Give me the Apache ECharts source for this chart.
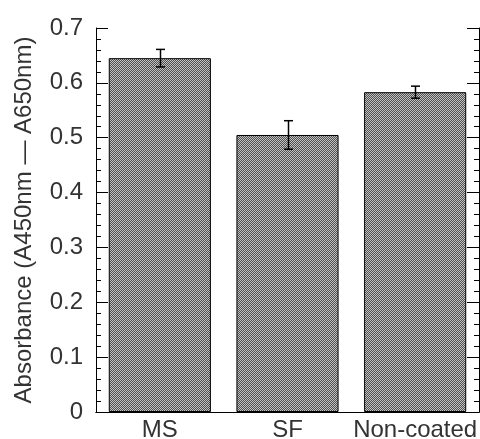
<!DOCTYPE html>
<html>
<head>
<meta charset="utf-8">
<script src="https://cdn.jsdelivr.net/npm/echarts@6/dist/echarts.min.js"></script>
<style>html,body{margin:0;padding:0;background:#fff}#c{width:480px;height:439px}</style>
</head>
<body>
<div id="c"></div>
<script>
const categories = ['MS', 'SF', 'Non-coated'];
const absorbance = [0.645, 0.505, 0.583];
const errors = [0.016, 0.026, 0.011];
const yTicks = [0, 0.1, 0.2, 0.3, 0.4, 0.5, 0.6, 0.7];

// checkered fill pattern
const pc = document.createElement('canvas');
pc.width = 2; pc.height = 2;
const pctx = pc.getContext('2d');
pctx.fillStyle = '#4e4e4e'; pctx.fillRect(0,0,2,2);
pctx.fillStyle = '#c4c4c4'; pctx.fillRect(0,0,1,1); pctx.fillRect(1,1,1,1);

const chart = echarts.init(document.getElementById('c'), null, {renderer: 'canvas'});
const font = 'Liberation Sans, Arial, sans-serif';
const fs = 24;
const yCommon = {
  type: 'value', min: yTicks[0], max: yTicks[yTicks.length-1], interval: 0.1,
  axisLine: {show: true, lineStyle: {color: '#000', width: 1}},
  axisTick: {show: true, inside: true, length: 12, lineStyle: {color: '#000', width: 1}},
  minorTick: {show: true, splitNumber: 5, length: 5, lineStyle: {color: '#000', width: 1}},
  splitLine: {show: false}
};
chart.setOption({
  animation: false,
  grid: {left: 96, top: 28, right: 1, bottom: 27, outerBoundsMode: 'none', containLabel: false},
  xAxis: [{
    type: 'category', data: categories, position: 'bottom',
    axisLine: {lineStyle: {color: '#000', width: 1}},
    axisTick: {inside: true, length: 13, lineStyle: {color: '#000'}},
    axisLabel: {color: '#333', fontSize: fs, fontFamily: font, margin: 6,
      interval: 0, hideOverlap: false}
  }, {
    type: 'category', data: categories, position: 'top',
    axisLine: {show: true, lineStyle: {color: '#000', width: 1}},
    axisTick: {inside: true, length: 13, lineStyle: {color: '#000'}},
    axisLabel: {show: false}
  }],
  yAxis: [Object.assign({}, yCommon, {
    position: 'left',
    name: 'Absorbance (A450nm — A650nm)', nameLocation: 'middle', nameGap: 60,
    nameTextStyle: {color: '#333', fontSize: fs, fontFamily: font},
    axisLabel: {color: '#333', fontSize: fs, fontFamily: font, margin: 13,
      formatter: v => String(v)}
  }), Object.assign({}, yCommon, {
    position: 'right', axisLabel: {show: false}
  })],
  series: [{
    type: 'bar', data: absorbance, barWidth: '80%', xAxisIndex: 0, yAxisIndex: 0,
    itemStyle: {color: {image: pc, repeat: 'repeat'}, borderColor: '#000', borderWidth: 1}
  }, {
    type: 'custom', xAxisIndex: 0, yAxisIndex: 0,
    data: absorbance.map((v, i) => [i, v - errors[i], v + errors[i]]),
    renderItem: function (params, api) {
      const lo = api.coord([api.value(0), api.value(1)]);
      const hi = api.coord([api.value(0), api.value(2)]);
      const x = Math.round(lo[0]) + 0.5;
      const w = 4.5;
      const st = {stroke: '#000', lineWidth: 1.5};
      return {type: 'group', children: [
        {type: 'line', shape: {x1: x, y1: lo[1], x2: x, y2: hi[1]}, style: st},
        {type: 'line', shape: {x1: x - w, y1: lo[1], x2: x + w, y2: lo[1]}, style: st},
        {type: 'line', shape: {x1: x - w, y1: hi[1], x2: x + w, y2: hi[1]}, style: st}
      ]};
    },
    z: 10
  }]
});
</script>
</body>
</html>
